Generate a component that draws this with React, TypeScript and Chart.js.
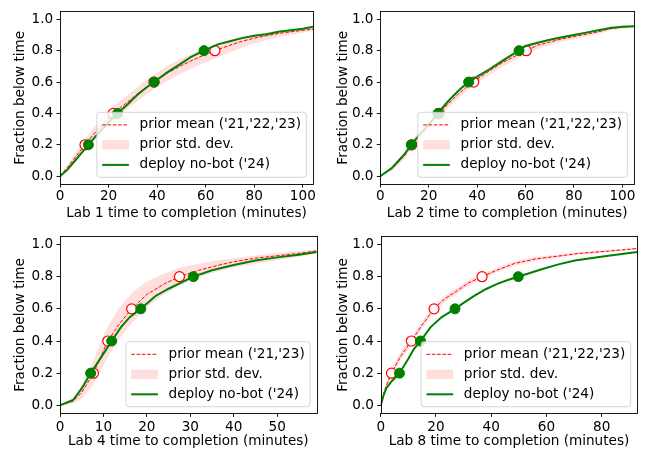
import React, { useEffect, useRef } from 'react';
import { Chart, registerables } from 'chart.js';

Chart.register(...registerables);

const FONT_FAMILY = "'DejaVu Sans', 'Liberation Sans', sans-serif";
const FONT_SIZE = 13.6;
const GREEN = '#008000';
const RED = '#ff0000';
const PINK = 'rgba(255, 0, 0, 0.13)';

const quantileLevels = [0.2, 0.4, 0.6, 0.8];
const yTickValues = [0, 0.2, 0.4, 0.6, 0.8, 1.0];
const yAxisTitle = 'Fraction below time';
const stdLabel = 'prior std. dev.';
const deployLabel = "deploy no-bot ('24)";

// ---------- Lab 1 ----------
const lab1Title = 'Lab 1 time to completion (minutes)';
const lab1MeanLabel = "prior mean ('21,'22,'23)";
const lab1XTicks = [0, 20, 40, 60, 80, 100];
const lab1XMax = 104.2;
const lab1PriorTimes = [0, 3, 6, 10.3, 14, 18, 21.9, 26, 30, 34, 38.7, 44, 50, 56, 63.8, 70, 75, 80, 85, 90, 95, 100, 104.2];
const lab1PriorMean = [0, 0.055, 0.115, 0.2, 0.27, 0.34, 0.4, 0.45, 0.5, 0.55, 0.6, 0.655, 0.705, 0.75, 0.8, 0.835, 0.86, 0.88, 0.895, 0.91, 0.92, 0.93, 0.937];
const lab1PriorLow = [0, 0.04, 0.09, 0.165, 0.23, 0.295, 0.355, 0.405, 0.455, 0.505, 0.555, 0.605, 0.655, 0.7, 0.75, 0.79, 0.82, 0.845, 0.868, 0.887, 0.9, 0.915, 0.925];
const lab1PriorHigh = [0, 0.07, 0.14, 0.235, 0.31, 0.385, 0.445, 0.495, 0.545, 0.595, 0.645, 0.7, 0.75, 0.79, 0.84, 0.87, 0.89, 0.905, 0.915, 0.928, 0.935, 0.942, 0.947];
const lab1DeployTimes = [0, 3, 6, 9, 11.7, 15, 18, 21, 23.7, 28, 32, 36, 38.8, 44, 49, 54, 59.3, 65, 70, 75, 80, 85, 90, 95, 100, 104.2];
const lab1DeployFrac = [0, 0.04, 0.095, 0.15, 0.2, 0.26, 0.31, 0.36, 0.4, 0.46, 0.52, 0.57, 0.6, 0.66, 0.71, 0.76, 0.8, 0.84, 0.86, 0.88, 0.895, 0.905, 0.92, 0.93, 0.94, 0.952];
const lab1PriorMarks = [10.3, 21.9, 38.7, 63.8];
const lab1DeployMarks = [11.7, 23.7, 38.8, 59.3];

// ---------- Lab 2 ----------
const lab2Title = 'Lab 2 time to completion (minutes)';
const lab2MeanLabel = "prior mean ('21,'22,'23)";
const lab2XTicks = [0, 20, 40, 60, 80, 100];
const lab2XMax = 104.8;
const lab2PriorTimes = [0, 5, 10, 13, 16, 20, 24.3, 28, 32, 35, 38.6, 42, 46, 50, 55, 60.3, 65, 70, 75, 80, 85, 90, 95, 100, 104.8];
const lab2PriorMean = [0, 0.05, 0.13, 0.2, 0.26, 0.325, 0.4, 0.46, 0.52, 0.56, 0.6, 0.64, 0.68, 0.72, 0.76, 0.8, 0.835, 0.855, 0.875, 0.89, 0.905, 0.92, 0.94, 0.95, 0.955];
const lab2PriorLow = [0, 0.035, 0.11, 0.175, 0.235, 0.3, 0.375, 0.435, 0.495, 0.535, 0.575, 0.615, 0.655, 0.695, 0.735, 0.775, 0.81, 0.835, 0.857, 0.873, 0.89, 0.907, 0.928, 0.94, 0.948];
const lab2PriorHigh = [0, 0.065, 0.15, 0.225, 0.285, 0.35, 0.425, 0.485, 0.545, 0.585, 0.625, 0.665, 0.705, 0.745, 0.785, 0.825, 0.86, 0.875, 0.893, 0.907, 0.92, 0.933, 0.952, 0.96, 0.962];
const lab2DeployTimes = [0, 5, 10, 12.8, 16, 20, 23.8, 27, 30, 33, 36.5, 40, 45, 50, 54, 57.3, 60, 65, 70, 75, 80, 85, 90, 95, 100, 104.8];
const lab2DeployFrac = [0, 0.055, 0.14, 0.2, 0.26, 0.33, 0.4, 0.46, 0.51, 0.555, 0.6, 0.635, 0.68, 0.73, 0.77, 0.8, 0.83, 0.85, 0.87, 0.885, 0.9, 0.915, 0.93, 0.945, 0.953, 0.956];
const lab2PriorMarks = [13, 24.3, 38.6, 60.3];
const lab2DeployMarks = [12.8, 23.8, 36.5, 57.3];

// ---------- Lab 4 ----------
const lab4Title = 'Lab 4 time to completion (minutes)';
const lab4MeanLabel = "prior mean ('21,'23)";
const lab4XTicks = [0, 10, 20, 30, 40, 50];
const lab4XMax = 59.1;
const lab4PriorTimes = [0, 3, 5, 7.7, 9.5, 11, 13.5, 16.5, 20, 24, 27.5, 32, 36, 40, 45, 50, 55, 59.1];
const lab4PriorMean = [0, 0.025, 0.08, 0.2, 0.31, 0.4, 0.5, 0.6, 0.69, 0.755, 0.8, 0.84, 0.868, 0.893, 0.915, 0.93, 0.945, 0.96];
const lab4PriorLow = [0, 0.01, 0.04, 0.13, 0.22, 0.3, 0.41, 0.51, 0.61, 0.69, 0.745, 0.795, 0.83, 0.855, 0.88, 0.902, 0.924, 0.946];
const lab4PriorHigh = [0, 0.04, 0.12, 0.28, 0.4, 0.49, 0.6, 0.7, 0.77, 0.82, 0.855, 0.88, 0.9, 0.915, 0.932, 0.947, 0.96, 0.972];
const lab4DeployTimes = [0, 3, 5, 7.05, 9.5, 11.9, 14, 16, 18.6, 22, 25, 28, 30.7, 35, 40, 45, 50, 55, 59.1];
const lab4DeployFrac = [0, 0.033, 0.105, 0.2, 0.3, 0.4, 0.485, 0.547, 0.6, 0.68, 0.725, 0.765, 0.8, 0.84, 0.873, 0.9, 0.92, 0.937, 0.953];
const lab4PriorMarks = [7.7, 11.0, 16.5, 27.5];
const lab4DeployMarks = [7.05, 11.9, 18.6, 30.7];

// ---------- Lab 8 ----------
const lab8Title = 'Lab 8 time to completion (minutes)';
const lab8MeanLabel = "prior mean ('21,'22,'23)";
const lab8XTicks = [0, 20, 40, 60, 80];
const lab8XMax = 92.9;
const lab8PriorTimes = [0, 1, 2, 3.9, 7, 11.1, 15, 19.3, 23, 27, 31.7, 36.7, 42, 48.6, 56, 64.3, 72, 82.4, 92.9];
const lab8PriorMean = [0, 0.07, 0.12, 0.2, 0.3, 0.4, 0.5, 0.6, 0.66, 0.705, 0.76, 0.8, 0.84, 0.883, 0.91, 0.928, 0.945, 0.959, 0.975];
const lab8PriorLow = [0, 0.05, 0.095, 0.175, 0.275, 0.375, 0.478, 0.578, 0.64, 0.686, 0.742, 0.784, 0.826, 0.87, 0.898, 0.918, 0.936, 0.952, 0.968];
const lab8PriorHigh = [0, 0.09, 0.145, 0.225, 0.325, 0.425, 0.522, 0.622, 0.68, 0.724, 0.778, 0.816, 0.854, 0.896, 0.922, 0.938, 0.954, 0.966, 0.98];
const lab8DeployTimes = [0, 1, 2, 4, 6.8, 10, 12, 14.4, 18, 22, 26.9, 30, 34, 38, 42, 46, 49.8, 54, 58.3, 64, 70.3, 76, 82.4, 88, 92.9];
const lab8DeployFrac = [0, 0.06, 0.105, 0.15, 0.2, 0.29, 0.35, 0.4, 0.485, 0.547, 0.6, 0.637, 0.682, 0.722, 0.754, 0.779, 0.8, 0.823, 0.846, 0.875, 0.9, 0.915, 0.93, 0.943, 0.953];
const lab8PriorMarks = [3.9, 11.1, 19.3, 36.7];
const lab8DeployMarks = [6.8, 14.4, 26.9, 49.8];

type PanelSpec = {
  left: number; top: number; padTop: number; padRight: number; yW: number; xH: number;
  xTitlePad: number; xTickPad: number;
  title: string; meanLabel: string; xTicks: number[]; xMax: number;
  priorTimes: number[]; priorMean: number[]; priorLow: number[]; priorHigh: number[];
  deployTimes: number[]; deployFrac: number[]; priorMarks: number[]; deployMarks: number[];
};

const panels: PanelSpec[] = [
  { left: 0, top: 0, padTop: 8, padRight: 10, yW: 60, xH: 41, xTitlePad: 3.5, xTickPad: 1,
    title: lab1Title, meanLabel: lab1MeanLabel, xTicks: lab1XTicks, xMax: lab1XMax,
    priorTimes: lab1PriorTimes, priorMean: lab1PriorMean, priorLow: lab1PriorLow, priorHigh: lab1PriorHigh,
    deployTimes: lab1DeployTimes, deployFrac: lab1DeployFrac, priorMarks: lab1PriorMarks, deployMarks: lab1DeployMarks },
  { left: 323, top: 0, padTop: 8, padRight: 12, yW: 57.3, xH: 41, xTitlePad: 3.5, xTickPad: 1,
    title: lab2Title, meanLabel: lab2MeanLabel, xTicks: lab2XTicks, xMax: lab2XMax,
    priorTimes: lab2PriorTimes, priorMean: lab2PriorMean, priorLow: lab2PriorLow, priorHigh: lab2PriorHigh,
    deployTimes: lab2DeployTimes, deployFrac: lab2DeployFrac, priorMarks: lab2PriorMarks, deployMarks: lab2DeployMarks },
  { left: 0, top: 225, padTop: 10.2, padRight: 6.3, yW: 60, xH: 36.6, xTitlePad: 0, xTickPad: 2,
    title: lab4Title, meanLabel: lab4MeanLabel, xTicks: lab4XTicks, xMax: lab4XMax,
    priorTimes: lab4PriorTimes, priorMean: lab4PriorMean, priorLow: lab4PriorLow, priorHigh: lab4PriorHigh,
    deployTimes: lab4DeployTimes, deployFrac: lab4DeployFrac, priorMarks: lab4PriorMarks, deployMarks: lab4DeployMarks },
  { left: 323, top: 225, padTop: 10.2, padRight: 8.7, yW: 57.7, xH: 36.6, xTitlePad: 0, xTickPad: 2,
    title: lab8Title, meanLabel: lab8MeanLabel, xTicks: lab8XTicks, xMax: lab8XMax,
    priorTimes: lab8PriorTimes, priorMean: lab8PriorMean, priorLow: lab8PriorLow, priorHigh: lab8PriorHigh,
    deployTimes: lab8DeployTimes, deployFrac: lab8DeployFrac, priorMarks: lab8PriorMarks, deployMarks: lab8DeployMarks },
];

const pts = (xs: number[], ys: number[]) => xs.map((x, i) => ({ x, y: ys[i] }));

const frameAndLegend = {
  id: 'frameAndLegend',
  afterDatasetsDraw(chart: any) {
    const { ctx, chartArea: a } = chart;
    const items = chart.data.datasets
      .filter((d: any) => d.legendKind)
      .sort((p: any, q: any) => p.legendOrder - q.legendOrder);
    ctx.save();
    ctx.font = `${FONT_SIZE}px ${FONT_FAMILY}`;
    const textW = Math.max(...items.map((d: any) => ctx.measureText(d.label).width));
    const w = 42.7 + textW + 5.3;
    const h = 65;
    const x = a.right - 6.7 - w;
    const y = a.bottom - 6.7 - h;
    const r = 2.7;
    ctx.beginPath();
    ctx.moveTo(x + r, y);
    ctx.lineTo(x + w - r, y);
    ctx.arcTo(x + w, y, x + w, y + r, r);
    ctx.lineTo(x + w, y + h - r);
    ctx.arcTo(x + w, y + h, x + w - r, y + h, r);
    ctx.lineTo(x + r, y + h);
    ctx.arcTo(x, y + h, x, y + h - r, r);
    ctx.lineTo(x, y + r);
    ctx.arcTo(x, y, x + r, y, r);
    ctx.closePath();
    ctx.fillStyle = 'rgba(255,255,255,0.8)';
    ctx.fill();
    ctx.strokeStyle = 'rgba(204,204,204,0.8)';
    ctx.lineWidth = 1;
    ctx.stroke();
    items.forEach((d: any, i: number) => {
      const cy = y + 12.6 + i * 20;
      const hx0 = x + 5.3;
      const hx1 = x + 32;
      if (d.legendKind === 'patch') {
        ctx.fillStyle = PINK;
        ctx.fillRect(hx0, cy - 4.7, hx1 - hx0, 9.4);
      } else {
        ctx.beginPath();
        ctx.setLineDash(d.borderDash || []);
        ctx.strokeStyle = d.borderColor;
        ctx.lineWidth = d.borderWidth;
        ctx.moveTo(hx0, cy);
        ctx.lineTo(hx1, cy);
        ctx.stroke();
        ctx.setLineDash([]);
      }
      ctx.fillStyle = '#000';
      ctx.textBaseline = 'middle';
      ctx.textAlign = 'left';
      ctx.fillText(d.label, x + 42.7, cy);
    });
    ctx.strokeStyle = '#000';
    ctx.lineWidth = 0.9;
    ctx.strokeRect(Math.round(a.left) + 0.5, Math.round(a.top) + 0.5,
      Math.round(a.right) - Math.round(a.left), Math.round(a.bottom) - Math.round(a.top));
    ctx.restore();
  },
};

function makeConfig(p: PanelSpec): any {
  const font = { family: FONT_FAMILY, size: FONT_SIZE };
  return {
    type: 'line',
    data: {
      datasets: [
        { label: 'deploy quantiles', data: quantileLevels.map((q, i) => ({ x: p.deployMarks[i], y: q })),
          showLine: false, pointRadius: 5, pointBorderWidth: 1, pointBackgroundColor: GREEN, pointBorderColor: GREEN },
        { label: deployLabel, data: pts(p.deployTimes, p.deployFrac), borderColor: GREEN, borderWidth: 2,
          pointRadius: 0, legendKind: 'line', legendOrder: 2 },
        { label: 'prior quantiles', data: quantileLevels.map((q, i) => ({ x: p.priorMarks[i], y: q })),
          showLine: false, pointRadius: 5, pointBorderWidth: 1.2, pointBackgroundColor: '#ffffff', pointBorderColor: RED },
        { label: p.meanLabel, data: pts(p.priorTimes, p.priorMean), borderColor: RED, borderWidth: 1,
          borderDash: [3.7, 1.6], pointRadius: 0, legendKind: 'dash', legendOrder: 0 },
        { label: stdLabel, data: pts(p.priorTimes, p.priorHigh), borderColor: 'transparent', borderWidth: 0,
          backgroundColor: PINK, fill: '+1', pointRadius: 0, legendKind: 'patch', legendOrder: 1 },
        { label: 'prior low', data: pts(p.priorTimes, p.priorLow), borderColor: 'transparent', borderWidth: 0,
          pointRadius: 0, fill: false },
      ],
    },
    options: {
      responsive: false,
      maintainAspectRatio: false,
      animation: false,
      events: [],
      layout: { padding: { left: 0, top: p.padTop, right: p.padRight, bottom: 0 } },
      plugins: { legend: { display: false }, tooltip: { enabled: false } },
      scales: {
        x: {
          type: 'linear', min: 0, max: p.xMax,
          afterBuildTicks: (s: any) => { s.ticks = p.xTicks.map((v) => ({ value: v })); },
          afterFit: (s: any) => { s.height = p.xH; },
          ticks: { font, color: '#000', padding: p.xTickPad, maxRotation: 0, autoSkip: false,
            callback: (v: any) => String(v) },
          grid: { display: true, drawOnChartArea: false, drawTicks: true, tickLength: 3.5, color: '#000', lineWidth: 0.9 },
          border: { display: false },
          title: { display: true, text: p.title, font, color: '#000', padding: { top: 0, bottom: p.xTitlePad } },
        },
        y: {
          type: 'linear', min: -0.05, max: 1.05,
          afterBuildTicks: (s: any) => { s.ticks = yTickValues.map((v) => ({ value: v })); },
          afterFit: (s: any) => { s.width = p.yW; },
          ticks: { font, color: '#000', padding: 3.3, autoSkip: false, callback: (v: any) => Number(v).toFixed(1) },
          grid: { display: true, drawOnChartArea: false, drawTicks: true, tickLength: 3.5, color: '#000', lineWidth: 0.9 },
          border: { display: false },
          title: { display: true, text: yAxisTitle, font, color: '#000', padding: { top: 12.8, bottom: 0 } },
        },
      },
    },
    plugins: [frameAndLegend],
  };
}

function Panel({ spec }: { spec: PanelSpec }) {
  const ref = useRef<HTMLCanvasElement>(null);
  useEffect(() => {
    if (!ref.current) return;
    const chart = new Chart(ref.current, makeConfig(spec));
    return () => chart.destroy();
  }, [spec]);
  return (
    <canvas ref={ref} width={323} height={225}
      style={{ position: 'absolute', left: spec.left, top: spec.top, width: 323, height: 225, display: 'block' }} />
  );
}

export default function App() {
  return (
    <div style={{ position: 'absolute', left: 0, top: 0, width: 646, height: 450, background: '#fff' }}>
      {panels.map((p, i) => <Panel key={i} spec={p} />)}
    </div>
  );
}
